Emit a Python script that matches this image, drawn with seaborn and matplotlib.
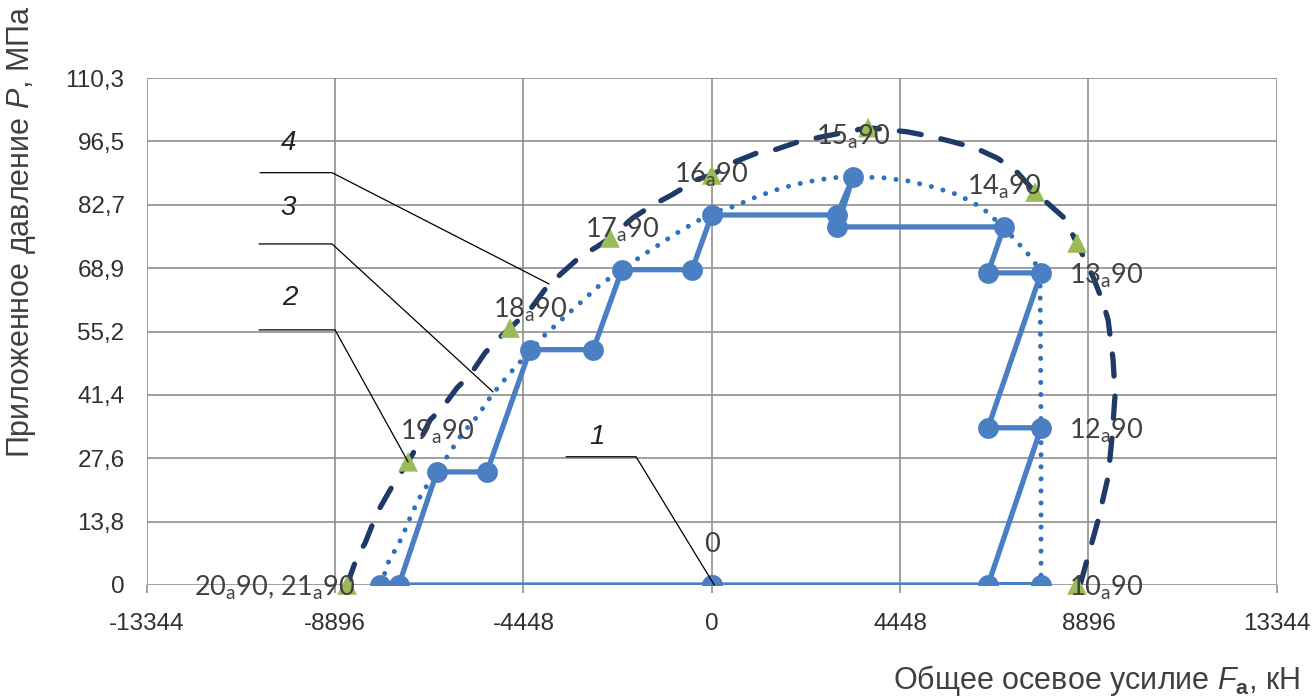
import numpy as np
import pandas as pd
import seaborn as sns
import matplotlib
matplotlib.use('Agg')
import matplotlib.pyplot as plt

# axis ticks
x_ticks = [-13344, -8896, -4448, 0, 4448, 8896, 13344]
x_tick_labels = ['-13344', '-8896', '-4448', '0', '4448', '8896', '13344']
y_ticks = [0, 13.7875, 27.575, 41.3625, 55.15, 68.9375, 82.725, 96.5125, 110.3]
y_tick_labels = ['0', '13,8', '27,6', '41,4', '55,2', '68,9', '82,7', '96,5', '110,3']

# curve 1 - loading path (solid, circles)
path_x = [0, 7780, 6525, 7780, 6525, 7780, 6525, 6900, 2960, 3340, 2960, 0,
          -465, -2120, -2800, -4290, -5310, -6490, -7390, -7830, 0]
path_y = [0, 0, 0, 34.2, 34.2, 67.9, 67.9, 77.9, 77.9, 88.8, 80.5, 80.5,
          68.6, 68.6, 51.2, 51.2, 24.6, 24.6, 0, 0, 0]

# curve 3 - dotted envelope
env3_x = [-7810, -7645, -7314, -7078, -6842, -6606, -6251, -5897, -5543, -5189,
          -4764, -3985, -3347, -2638, -1622, -820, 0, 503, 1070, 1660, 2251,
          2841, 3337, 4045, 4636, 5226, 5816, 6383, 6926, 7233, 7446, 7753,
          7777, 7777]
env3_y = [0, 4.8, 10.4, 15.7, 20.0, 23.3, 27.9, 32.9, 36.6, 41.4,
          46.1, 54.0, 59.4, 65.3, 71.8, 76.6, 81.0, 82.3, 84.5, 86.4, 87.7,
          88.6, 88.8, 88.6, 87.9, 86.6, 84.9, 82.1, 77.5, 74.4, 72.3, 68.6,
          34.2, 0]

# curve 4 - dashed envelope
env4_x = [-8613, -8377, -8188, -7905, -7527, -7172, -6936, -6653, -6369, -6015,
          -5708, -5354, -5071, -4764, -4292, -3890, -3536, -3111, -2709, -2402,
          -1859, -1387, -938, -347, 0, 503, 1070, 1495, 2038, 2605, 3693, 4612,
          5226, 5698, 6218, 6737, 7163, 7636, 8297, 8628, 9006, 9220, 9361,
          9479, 9526, 9455, 9361, 9125, 8818, 8700]
env4_y = [0, 6.1, 9.1, 15.7, 21.8, 26.8, 30.5, 35.9, 38.5, 42.9,
          45.7, 50.5, 53.3, 55.9, 59.9, 64.9, 67.9, 71.4, 73.6, 75.5,
          79.9, 82.7, 84.9, 88.2, 89.2, 91.9, 94.0, 94.7, 96.4, 97.5, 99.5, 98.6,
          97.5, 96.4, 95.1, 92.9, 90.3, 85.5, 80.1, 74.4, 67.0, 62.0, 57.7,
          49.0, 41.4, 32.2, 23.5, 14.1, 3.9, 0]

# green triangles
tri_x = [-8613, -7172, -4764, -2402, 0, 3693, 7636, 8628, 8628]
tri_y = [0, 26.8, 55.9, 75.5, 89.2, 99.5, 85.5, 74.4, 0]

# data labels
lbl_names = ['0', '10', '12', '13', '14', '15', '16', '17', '18', '19', '20,21']
lbl_x = [0, 7780, 7780, 7780, 6900, 3340, 0, -2120, -4290, -6490, -7830]
lbl_y = [0, 0, 34.2, 67.9, 77.9, 88.8, 80.5, 68.6, 51.2, 24.6, 0]
lbl_pos = ['above', 'right', 'right', 'right', 'above', 'above', 'above',
           'above', 'above', 'above', 'left']

# curve number callouts
num_names = ['4', '3', '2', '1']
num_x = [-10007, -10007, -9960, -2709]
num_y = [96.2, 82.1, 62.5, 32.2]
lead_x = [[-10668, -8967, -3843], [-10691, -8967, -5165],
          [-10691, -8897, -7172], [-3441, -1788, 60]]
lead_y = [[89.7, 89.7, 65.5], [74.2, 74.2, 42.0],
          [55.5, 55.5, 26.8], [27.9, 27.9, 0]]

sns.set_theme(style='white')
plt.rcParams['font.family'] = ['Liberation Sans', 'DejaVu Sans']
plt.rcParams['mathtext.fontset'] = 'custom'
plt.rcParams['mathtext.rm'] = 'Liberation Sans'
plt.rcParams['mathtext.it'] = 'Liberation Sans:italic'
plt.rcParams['mathtext.bf'] = 'Liberation Sans:bold'

fig = plt.figure(figsize=(13.15, 6.99), dpi=100)
ax = fig.add_axes([0.1116, 0.1631, 0.8593, 0.7253])

grid_col = '#8f8f8f'
for v in x_ticks:
    ax.axvline(v, color=grid_col, lw=1.2, zorder=1)
for v in y_ticks:
    ax.axhline(v, color=grid_col, lw=1.2, zorder=1)

df4 = pd.DataFrame({'x': env4_x, 'y': env4_y})
sns.lineplot(data=df4, x='x', y='y', sort=False, estimator=None, ax=ax,
             color='#1f3a68', lw=3.8, linestyle=(0, (4.2, 3.8)),
             dash_capstyle='round', zorder=2)

df3 = pd.DataFrame({'x': env3_x, 'y': env3_y})
sns.lineplot(data=df3, x='x', y='y', sort=False, estimator=None, ax=ax,
             color='#2f71bd', lw=3.6, linestyle=(0, (0.01, 2.4)),
             dash_capstyle='round', zorder=3)

df1 = pd.DataFrame({'x': path_x, 'y': path_y})
sns.lineplot(data=df1, x='x', y='y', sort=False, estimator=None, ax=ax,
             color='#4a7fc3', lw=3.8, marker='o', markersize=15,
             markeredgewidth=0, zorder=4)

dft = pd.DataFrame({'x': tri_x, 'y': tri_y})
sns.scatterplot(data=dft, x='x', y='y', ax=ax, marker='^', s=200,
                color='#9bbb59', edgecolor='none', zorder=5, clip_on=False)

def make_label(name):
    parts = [p.strip() for p in name.split(',')]
    return ', '.join(p + r'$_\mathregular{a}$90' if p != '0' else '0' for p in parts)

for name, lx, ly, pos in zip(lbl_names, lbl_x, lbl_y, lbl_pos):
    if pos == 'above':
        off, ha = (0, 29), 'center'
    elif pos == 'right':
        off, ha = (20, -2), 'left'
    else:
        off, ha = (-18, -2), 'right'
    ax.annotate(make_label(name), (lx, ly), xytext=off, textcoords='offset points',
                ha=ha, va='center', fontsize=19.5, color='#404040',
                family=['Lato', 'DejaVu Sans'], zorder=6, annotation_clip=False)

for name, nx, ny, lx, ly in zip(num_names, num_x, num_y, lead_x, lead_y):
    ax.plot(lx, ly, color='black', lw=0.9, zorder=6, clip_on=False)
    ax.text(nx, ny, name, ha='center', va='center', fontsize=20,
            style='italic', color='#222222', zorder=6)

ax.set_xlim(-13344, 13344)
ax.set_ylim(0, 110.3)
ax.set_xticks(x_ticks)
ax.set_xticklabels(x_tick_labels)
ax.set_yticks(y_ticks)
ax.set_yticklabels(y_tick_labels)
ax.tick_params(axis='x', length=6, width=1.2, color=grid_col, pad=14,
               labelsize=17.5, labelcolor='#303030', direction='out', bottom=True)
ax.tick_params(axis='y', length=0, pad=16, labelsize=17.5, labelcolor='#303030')
ax.set_xlabel('')
ax.set_ylabel('')
for s in ax.spines.values():
    s.set_visible(False)

fig.text(0.0167, 0.993, 'Приложенное давление $\\mathit{P}$, МПа', rotation=90,
         ha='center', va='top', fontsize=22, color='#404040')
fig.text(0.9886, 0.027, 'Общее осевое усилие $\\mathit{F}_\\mathbf{a}$, кН',
         ha='right', va='center', fontsize=22, color='#404040')

fig.savefig('out.png', dpi=100)
